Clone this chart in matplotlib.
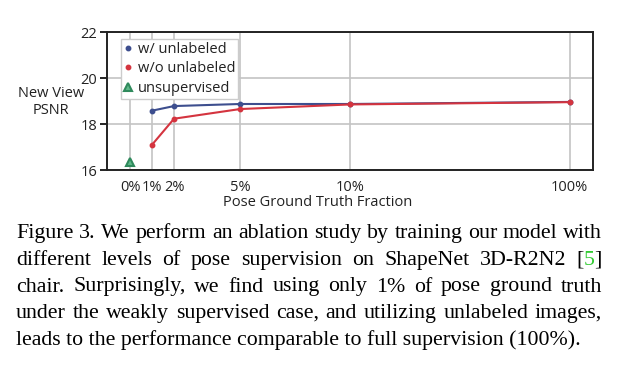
import numpy as np
import matplotlib
matplotlib.use('Agg')
import matplotlib.pyplot as plt
from matplotlib.lines import Line2D

# ---- data ----
fractions = [0, 1, 2, 5, 10, 100]
tick_labels = ['0%', '1%', '2%', '5%', '10%', '100%']
frac_sup = [1, 2, 5, 10, 100]
w_unlabeled = [18.58, 18.78, 18.87, 18.87, 18.96]
wo_unlabeled = [17.10, 18.23, 18.65, 18.85, 18.95]
frac_unsup = [0]
unsupervised = [16.36]
y_ticks = [16, 18, 20, 22]

caption_lines = [
    "Figure 3. We perform an ablation study by training our model with",
    "different levels of pose supervision on ShapeNet 3D-R2N2 [5]",
    "chair.  Surprisingly, we find using only 1% of pose ground truth",
    "under the weakly supervised case, and utilizing unlabeled images,",
    "leads to the performance comparable to full supervision (100%).",
]

W, H = 619, 369
fig = plt.figure(figsize=(W / 100, H / 100), dpi=100)
sans = 'Open Sans'
fs = 10.5

ax = fig.add_axes([107 / W, 1 - 170 / H, (593 - 107) / W, (170 - 32) / H])


def fwd(x):
    x = np.asarray(x, float)
    return np.where(x <= 10, x, 10 + (x - 10) / 9)


def inv(y):
    y = np.asarray(y, float)
    return np.where(y <= 10, y, 10 + (y - 10) * 9)


ax.set_xscale('function', functions=(fwd, inv))
ax.set_xlim(-1.05, 109.5)
ax.set_ylim(16, 22)

blue = '#3d4e8e'
red = '#d4343f'
green = '#2f8a5c'
tri_fill = '#5fb98a'

ax.plot(frac_sup, w_unlabeled, '-o', color=blue, lw=1.5, ms=3.2, zorder=3)
ax.plot(frac_sup, wo_unlabeled, '-o', color=red, lw=1.5, ms=3.2, zorder=4)
ax.plot(frac_unsup, unsupervised, '^', color=tri_fill, mec=green, mew=1.5, ms=6,
        zorder=5, clip_on=False)

ax.set_xticks(fractions)
ax.set_xticklabels(tick_labels)
ax.set_yticks(y_ticks)
ax.xaxis.set_minor_locator(matplotlib.ticker.NullLocator())
ax.grid(True, color='#c4c4c4', lw=1.2)
ax.set_axisbelow(True)
for s in ax.spines.values():
    s.set_color('#222222')
    s.set_linewidth(1.4)
ax.tick_params(axis='x', length=0, pad=7, labelsize=fs)
ax.tick_params(axis='y', length=5, width=1.2, pad=2, labelsize=fs)
for lab in ax.get_xticklabels() + ax.get_yticklabels():
    lab.set_fontfamily(sans)
    lab.set_color('#222222')

handles = [
    Line2D([], [], ls='none', marker='o', color=blue, ms=3.2),
    Line2D([], [], ls='none', marker='o', color=red, ms=3.2),
    Line2D([], [], ls='none', marker='^', color=tri_fill, mec=green, mew=1.5, ms=6),
]
leg = ax.legend(handles, ['w/ unlabeled', 'w/o unlabeled', 'unsupervised'],
                loc='upper left', bbox_to_anchor=(14 / 486, 1 - 7 / 138),
                prop={'family': sans, 'size': fs}, handlelength=0.6, handletextpad=0.35,
                borderpad=0.2, labelspacing=0.3, borderaxespad=0, frameon=True,
                fancybox=False, edgecolor='#cccccc', framealpha=1)
leg.get_frame().set_linewidth(1.0)
for t in leg.get_texts():
    t.set_color('#222222')

fig.text(51 / W, 1 - 102 / H, 'New View\nPSNR', ha='center', va='center',
         family=sans, fontsize=fs, color='#222222', linespacing=1.25)
fig.text(318 / W, 1 - 203 / H, 'Pose Ground Truth Fraction', ha='center', va='center',
         family=sans, fontsize=fs, color='#222222')

# ---- caption ----
serif = 'Liberation Serif'
renderer = fig.canvas.get_renderer()


def text_width(s, size):
    t = fig.text(0, 0, s, family=serif, fontsize=size)
    w = t.get_window_extent(renderer).width
    t.remove()
    return w


x0, x1 = 16, 602
size = 14.0
size = min(size * (x1 - x0) / text_width(l, size) for l in caption_lines[:-1])

baselines = [238, 265, 291.5, 318, 345]


def draw_word(word, x, yb):
    if word == '[5]':
        parts = [('[', 'black'), ('5', '#33cc33'), (']', 'black')]
    else:
        parts = [(word, 'black')]
    total = 0
    for s, c in parts:
        t = fig.text((x + total) / W, 1 - yb / H, s, family=serif, fontsize=size,
                     color=c, va='baseline', ha='left')
        total += t.get_window_extent(renderer).width
    return total


def word_width(word):
    if word == '[5]':
        return text_width('[', size) + text_width('5', size) + text_width(']', size)
    return text_width(word, size)


for i, line in enumerate(caption_lines):
    words = line.split()
    yb = baselines[i]
    if i < len(caption_lines) - 1:
        widths = [word_width(w) for w in words]
        gap = (x1 - x0 - sum(widths)) / (len(words) - 1)
        x = x0
        for w, ww in zip(words, widths):
            draw_word(w, x, yb)
            x += ww + gap
    else:
        fig.text(x0 / W, 1 - yb / H, line, family=serif, fontsize=size,
                 va='baseline', ha='left')

fig.savefig('out.png', dpi=100)
